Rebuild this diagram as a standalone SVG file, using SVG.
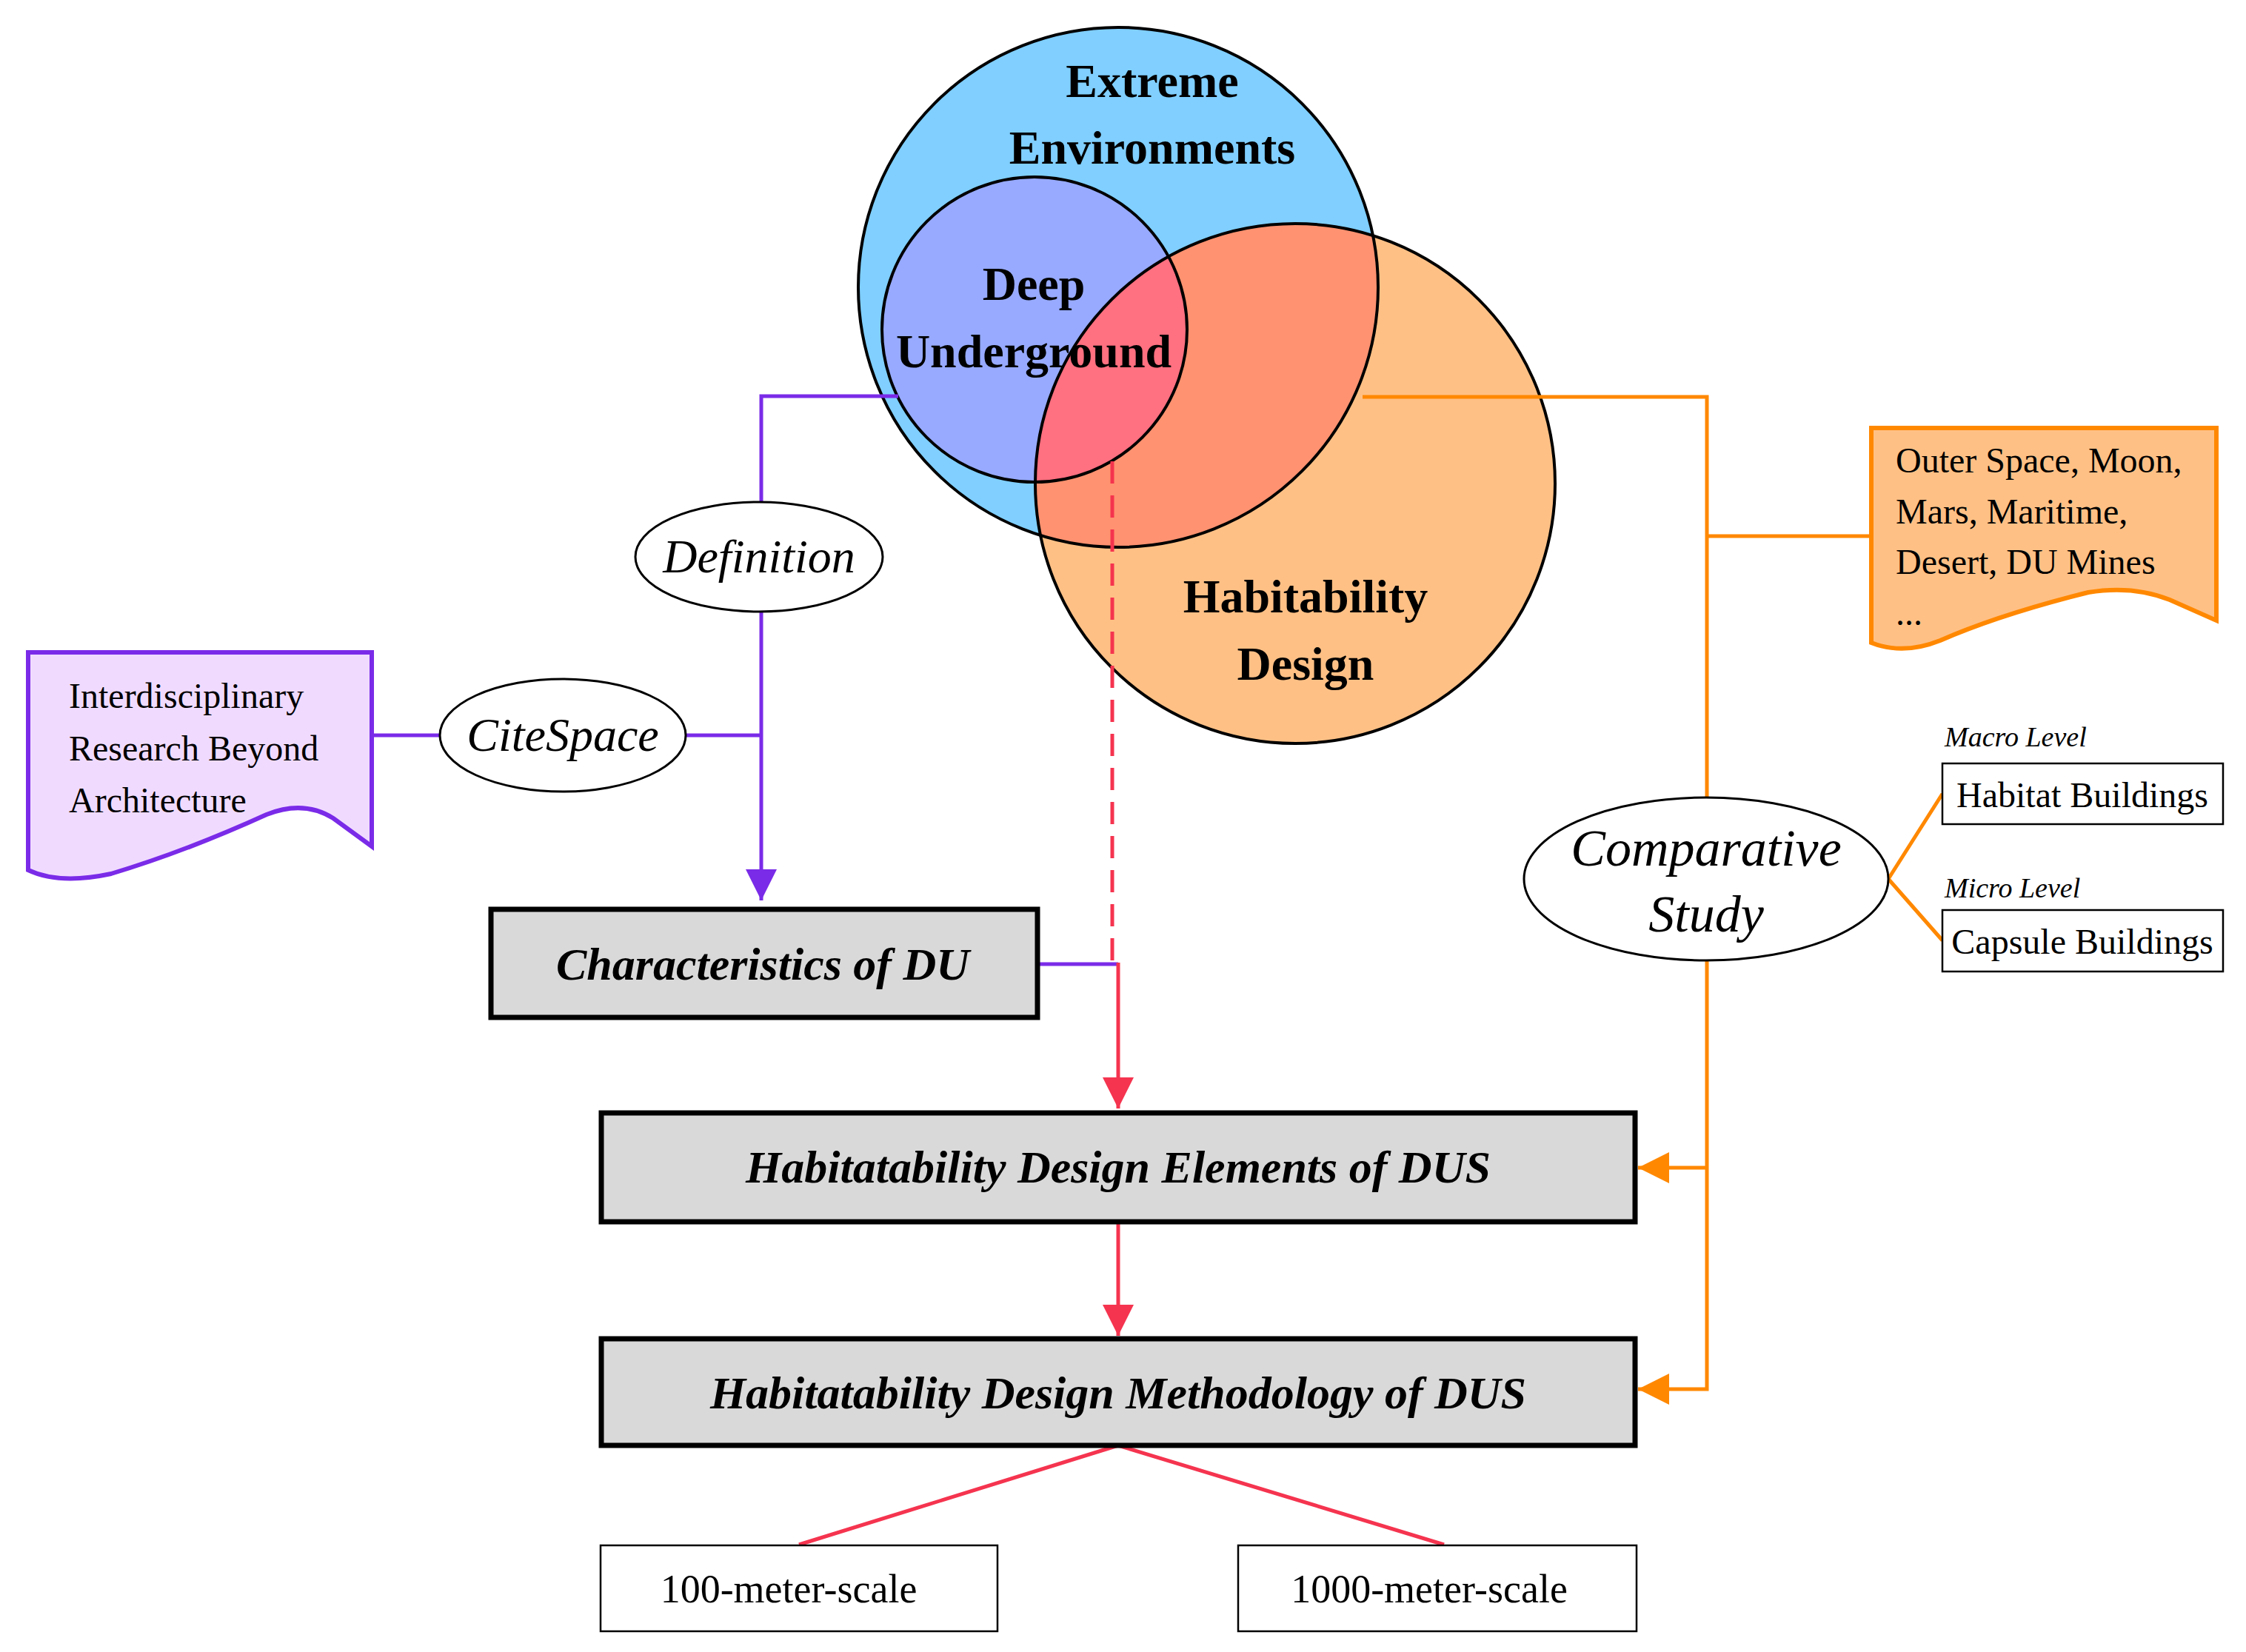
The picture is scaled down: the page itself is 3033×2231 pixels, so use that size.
<svg xmlns="http://www.w3.org/2000/svg" width="3033" height="2231" viewBox="0 0 3033 2231">
<style>
text{font-family:"Liberation Serif","Times New Roman",serif;fill:#000}
.b{font-weight:bold;font-size:64px;text-anchor:middle}
.bi{font-weight:bold;font-style:italic;font-size:62px;text-anchor:middle}
.i{font-style:italic;text-anchor:middle;font-size:64px}
.r{font-size:48px}
.pl{stroke:#7a2be8;stroke-width:5;fill:none}
.ol{stroke:#ff8800;stroke-width:5;fill:none}
.rl{stroke:#f5344f;stroke-width:5;fill:none}
.box{fill:#d9d9d9;stroke:#000;stroke-width:7}
.wb{fill:#fff;stroke:#000;stroke-width:2.5}
.el{fill:#fff;stroke:#000;stroke-width:3}
</style>
<defs>
<clipPath id="cB"><circle cx="1510" cy="388" r="351"/></clipPath>
<clipPath id="cD"><circle cx="1397" cy="445" r="206"/></clipPath>
<marker id="aP" viewBox="0 0 10 10" refX="10" refY="5" markerWidth="5" markerHeight="5" orient="auto" markerUnits="userSpaceOnUse" style="overflow:visible"><path d="M0,0L10,5L0,10z" fill="#7a2be8" transform="scale(1)"/></marker>
<marker id="aR" viewBox="0 0 10 10" refX="10" refY="5" markerWidth="42" markerHeight="42" orient="auto" markerUnits="userSpaceOnUse"><path d="M0,0L10,5L0,10z" fill="#f5344f"/></marker>
<marker id="aO" viewBox="0 0 10 10" refX="10" refY="5" markerWidth="42" markerHeight="42" orient="auto" markerUnits="userSpaceOnUse"><path d="M0,0L10,5L0,10z" fill="#ff8800"/></marker>
<marker id="aPu" viewBox="0 0 10 10" refX="10" refY="5" markerWidth="42" markerHeight="42" orient="auto" markerUnits="userSpaceOnUse"><path d="M0,0L10,5L0,10z" fill="#7a2be8"/></marker>
</defs>

<g id="venn">
<circle cx="1510" cy="388" r="351" fill="#80cfff"/>
<circle cx="1749" cy="653" r="351" fill="#ffc085"/>
<circle cx="1749" cy="653" r="351" fill="#ff9270" clip-path="url(#cB)"/>
<circle cx="1397" cy="445" r="206" fill="#97aaff"/>
<circle cx="1749" cy="653" r="351" fill="#ff7080" clip-path="url(#cD)"/>
<circle cx="1510" cy="388" r="351" fill="none" stroke="#000" stroke-width="4"/>
<circle cx="1397" cy="445" r="206" fill="none" stroke="#000" stroke-width="4"/>
<circle cx="1749" cy="653" r="351" fill="none" stroke="#000" stroke-width="4"/>
<text class="b" x="1556" y="131">Extreme</text>
<text class="b" x="1556" y="221">Environments</text>
<text class="b" x="1396" y="405">Deep</text>
<text class="b" x="1396" y="496">Underground</text>
<text class="b" x="1763" y="827">Habitability</text>
<text class="b" x="1763" y="918">Design</text>
</g>

<g id="connectors">
<path class="pl" d="M1213,535H1028V1216" marker-end="url(#aPu)"/>
<path class="pl" d="M502,993H595M926,993H1028"/>
<path class="pl" d="M1394,1302H1510"/>
<path class="rl" d="M1502,623V1300" stroke-dasharray="30,16"/>
<path class="rl" d="M1510,1300V1497" marker-end="url(#aR)"/>
<path class="rl" d="M1510,1650V1804" marker-end="url(#aR)"/>
<path class="rl" d="M1510,1952L1079,2086M1510,1952L1950,2086" stroke-width="4"/>
<path class="ol" d="M1840,536H2305V1077M2305,724H2527"/>
<path class="ol" d="M2305,1297V1876H2212" marker-end="url(#aO)"/>
<path class="ol" d="M2305,1577H2212" marker-end="url(#aO)"/>
<path class="ol" d="M2550,1187L2623,1072M2550,1187L2623,1270" stroke-width="4"/>
</g>

<g id="doc-left">
<path d="M38,881H502V1143L450,1105Q410,1080 360,1100Q250,1150 150,1180Q80,1195 38,1175Z" fill="#f0dbff" stroke="#7a2be8" stroke-width="6"/>
<text class="r" x="93" y="956">Interdisciplinary</text>
<text class="r" x="93" y="1027">Research Beyond</text>
<text class="r" x="93" y="1097">Architecture</text>
</g>
<g id="definition"><ellipse class="el" cx="1025" cy="752" rx="167" ry="74"/><text class="i" x="1025" y="773">Definition</text></g>
<g id="citespace"><ellipse class="el" cx="760" cy="993" rx="166" ry="76"/><text class="i" x="760" y="1014">CiteSpace</text></g>
<g id="characteristics"><rect class="box" x="663" y="1228" width="738" height="146"/><text class="bi" x="1030" y="1323">Characteristics of DU</text></g>
<g id="elements"><rect class="box" x="812" y="1503" width="1396" height="147"/><text class="bi" x="1510" y="1597">Habitatability Design Elements of DUS</text></g>
<g id="methodology"><rect class="box" x="812" y="1808" width="1396" height="144"/><text class="bi" x="1510" y="1902">Habitatability Design Methodology of DUS</text></g>
<g id="s100"><rect class="wb" x="811" y="2087" width="536" height="116"/><text x="1065" y="2164" style="font-size:54px;text-anchor:middle">100-meter-scale</text></g>
<g id="s1000"><rect class="wb" x="1672" y="2087" width="538" height="116"/><text x="1930" y="2164" style="font-size:54px;text-anchor:middle">1000-meter-scale</text></g>

<g id="doc-right">
<path d="M2527,578H2993V838L2930,810Q2880,790 2820,800Q2700,830 2620,865Q2570,885 2527,868Z" fill="#ffc085" stroke="#ff8800" stroke-width="6"/>
<text class="r" x="2560" y="638">Outer Space, Moon,</text>
<text class="r" x="2560" y="707">Mars, Maritime,</text>
<text class="r" x="2560" y="775">Desert, DU Mines</text>
<text class="r" x="2560" y="844">...</text>
</g>
<g id="comparative"><ellipse class="el" cx="2304" cy="1187" rx="246" ry="110"/><text class="i" x="2304" y="1169" style="font-size:70px">Comparative</text><text class="i" x="2304" y="1258" style="font-size:70px">Study</text></g>
<g id="habitat"><text x="2626" y="1008" style="font-size:38px;font-style:italic">Macro Level</text><rect class="wb" x="2623" y="1031" width="379" height="82"/><text x="2812" y="1090" style="font-size:48px;text-anchor:middle">Habitat Buildings</text></g>
<g id="capsule"><text x="2626" y="1212" style="font-size:38px;font-style:italic">Micro Level</text><rect class="wb" x="2623" y="1229" width="379" height="83"/><text x="2812" y="1288" style="font-size:48px;text-anchor:middle">Capsule Buildings</text></g>
</svg>
